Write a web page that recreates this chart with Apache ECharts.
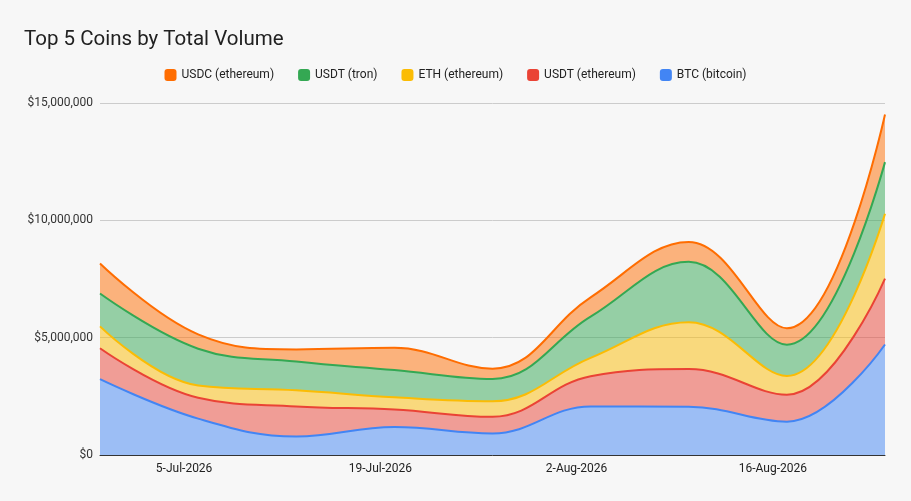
<!DOCTYPE html>
<html>
<head>
<meta charset="utf-8">
<title>Top 5 Coins by Total Volume</title>
<script src="https://cdn.jsdelivr.net/npm/echarts@6/dist/echarts.min.js"></script>
<style>
  html, body { margin: 0; padding: 0; background: #f7f7f7; }
  #chart { width: 911px; height: 501px; }
</style>
</head>
<body>
<div id="chart"></div>
<script>
// weekly data points
const dates = ['2026-06-29', '2026-07-06', '2026-07-13', '2026-07-20', '2026-07-27',
               '2026-08-03', '2026-08-10', '2026-08-17', '2026-08-24'];

const btc      = [3230000, 1550000, 790000, 1190000, 920000, 2070000, 2060000, 1420000, 4710000];
const usdtEth  = [1320000, 890000, 1280000, 750000, 710000, 1290000, 1600000, 1150000, 2810000];
const eth      = [930000, 520000, 690000, 520000, 660000, 780000, 2000000, 800000, 2760000];
const usdtTron = [1400000, 1570000, 1220000, 1160000, 950000, 1760000, 2570000, 1330000, 2200000];
const usdc     = [1280000, 610000, 520000, 950000, 440000, 820000, 850000, 700000, 2030000];

// x-axis label dates
const tickDates = ['2026-07-05', '2026-07-19', '2026-08-02', '2026-08-16'];
const yTicks = [0, 5000000, 10000000, 15000000];

const months = ['Jan', 'Feb', 'Mar', 'Apr', 'May', 'Jun', 'Jul', 'Aug', 'Sep', 'Oct', 'Nov', 'Dec'];

// date string -> day number (days since epoch, UTC)
function toDay(s) {
    const [y, m, d] = s.split('-').map(Number);
    return Math.round(Date.UTC(y, m - 1, d) / 86400000);
}

function dayLabel(day) {
    const d = new Date(day * 86400000);
    return d.getUTCDate() + '-' + months[d.getUTCMonth()] + '-' + d.getUTCFullYear();
}

const colors = {
    btc: '#4285F4',
    usdtEth: '#EA4335',
    eth: '#FBBC04',
    usdtTron: '#34A853',
    usdc: '#FF6D01',
    grid: '#cccccc'
};

const chart = echarts.init(document.getElementById('chart'));

// value first so the stack runs on y, day second for x
function areaSeries(name, values, color) {
    return {
        name: name,
        type: 'line',
        stack: 'total',
        smooth: 0.4,
        symbol: 'none',
        encode: { x: 1, y: 0 },
        data: values.map((v, i) => [v, toDay(dates[i])]),
        lineStyle: { width: 2, color: color },
        itemStyle: { color: color },
        areaStyle: { color: color, opacity: 0.5 }
    };
}

const option = {
    backgroundColor: '#f7f7f7',
    textStyle: { fontFamily: 'Roboto' },
    title: {
        text: 'Top 5 Coins by Total Volume',
        left: 19,
        top: 24,
        textStyle: { color: '#212121', fontSize: 20.5, fontWeight: 'normal', fontFamily: 'Roboto' }
    },
    legend: {
        top: 64,
        left: 'center',
        icon: 'roundRect',
        itemWidth: 12,
        itemHeight: 12,
        itemGap: 24,
        textStyle: { color: '#222', fontSize: 12, fontFamily: 'Roboto' },
        data: ['USDC (ethereum)', 'USDT (tron)', 'ETH (ethereum)', 'USDT (ethereum)', 'BTC (bitcoin)']
    },
    grid: {
        left: 100,
        right: 26,
        top: 103,
        bottom: 46
    },
    xAxis: {
        type: 'value',
        min: toDay(dates[0]),
        max: toDay(dates[dates.length - 1]),
        axisLine: { show: true, lineStyle: { color: '#333', width: 1 } },
        axisTick: { show: false },
        splitLine: { show: false },
        axisLabel: {
            color: '#222',
            fontSize: 12,
            margin: 8,
            customValues: tickDates.map(toDay),
            formatter: (val) => dayLabel(val)
        }
    },
    yAxis: {
        type: 'value',
        min: yTicks[0],
        max: yTicks[yTicks.length - 1],
        interval: yTicks[1] - yTicks[0],
        axisLine: { show: false },
        axisTick: { show: false },
        axisLabel: {
            color: '#333',
            fontSize: 12,
            margin: 7,
            formatter: (v) => '$' + v.toLocaleString('en-US')
        },
        splitLine: { show: true, lineStyle: { color: colors.grid, width: 1 } }
    },
    series: [
        areaSeries('BTC (bitcoin)', btc, colors.btc),
        areaSeries('USDT (ethereum)', usdtEth, colors.usdtEth),
        areaSeries('ETH (ethereum)', eth, colors.eth),
        areaSeries('USDT (tron)', usdtTron, colors.usdtTron),
        areaSeries('USDC (ethereum)', usdc, colors.usdc)
    ]
};

chart.setOption(option);
window.addEventListener('resize', () => chart.resize());
</script>
</body>
</html>
